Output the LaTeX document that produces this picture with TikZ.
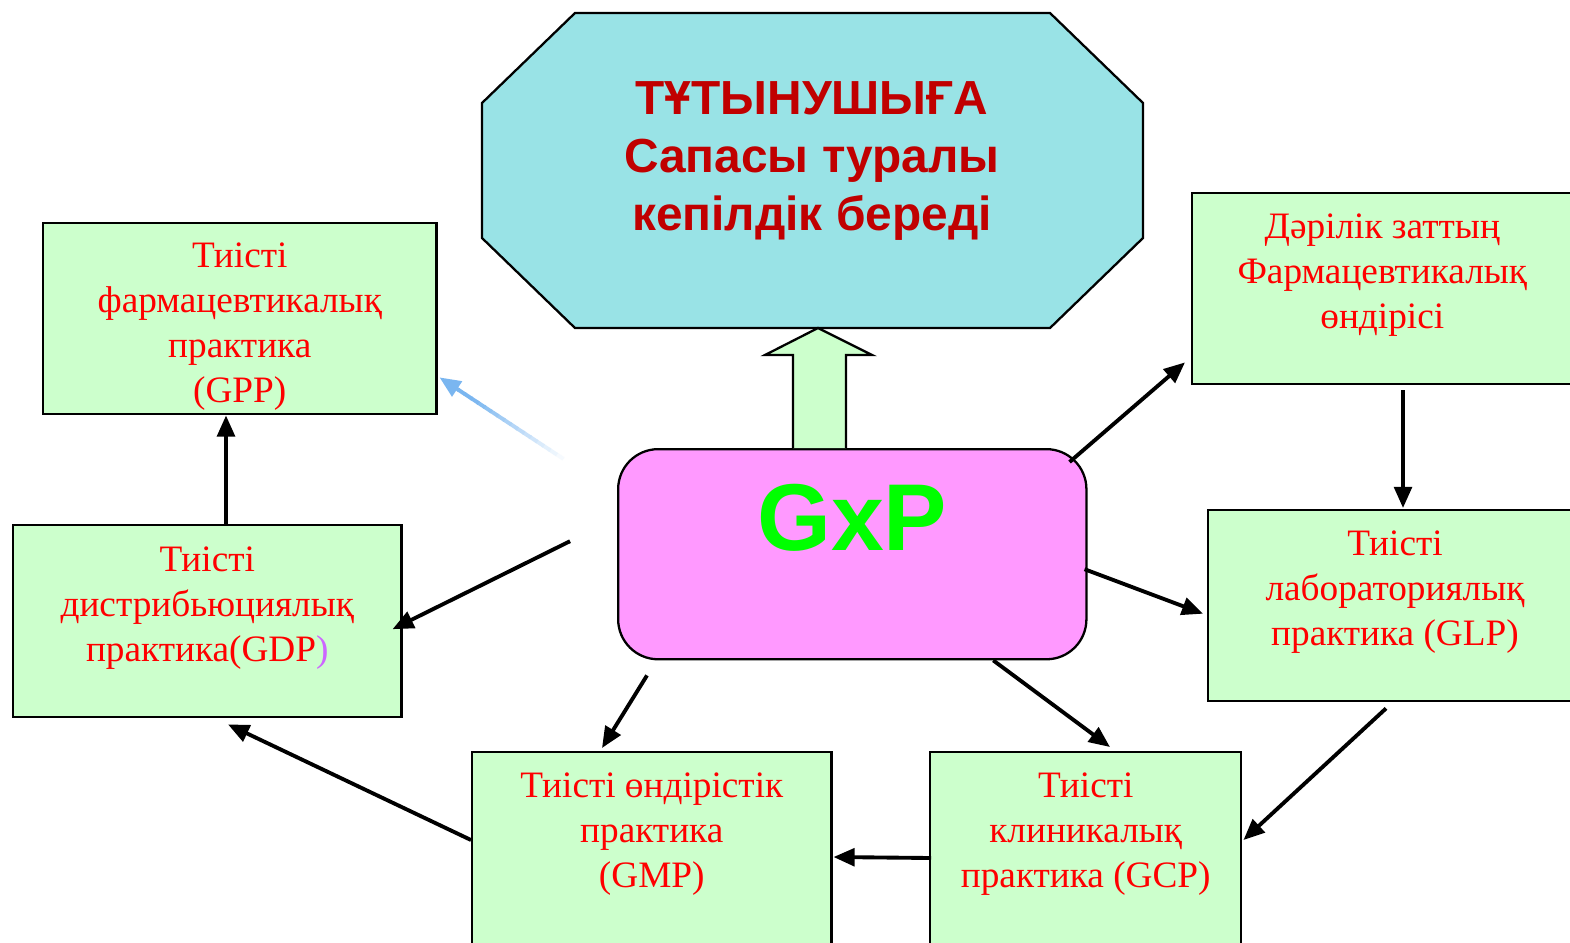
\documentclass[tikz,border=0pt]{standalone}
\usepackage{fontspec}
\setmainfont{Liberation Serif}
\newfontfamily\headfont{Liberation Sans}
\usetikzlibrary{arrows.meta, positioning, calc}
\definecolor{boxGreen}{RGB}{204,255,204}
\definecolor{topCyan}{RGB}{153,227,230}
\definecolor{gxpPink}{RGB}{255,153,255}
\definecolor{gxpGreen}{RGB}{0,255,0}
\definecolor{headRed}{RGB}{192,0,0}
\definecolor{fadeBlue}{RGB}{122,182,240}
\definecolor{parenViolet}{RGB}{204,102,255}

\begin{document}
\begin{tikzpicture}[
    x=0.01cm, y=-0.01cm,
    box/.style={rectangle, draw, line width=0.65pt, fill=boxGreen, anchor=north west, inner sep=0pt},
    boxtext/.style={anchor=north, align=center, inner sep=0pt, text=red, font=\fontsize{10.6}{12.8}\selectfont},
    arrow/.style={-{Triangle[length=6pt, width=5pt]}, line width=1.1pt}
]
    \clip (0,0) rectangle (1570,942);
    \fill[white] (0,0) rectangle (1570,942);

    % Top octagon
    \draw[line width=0.65pt, fill=topCyan] (575,13) -- (1050,13) -- (1143,103) -- (1143,238)
        -- (1050,328) -- (575,328) -- (482,238) -- (482,103) -- cycle;
    \node[anchor=north, align=center, inner sep=0pt, text=headRed,
        font=\headfont\bfseries\fontsize{13.6}{16.5}\selectfont] (consumer) at (812,81)
        {ТҰТЫНУШЫҒА\\Сапасы туралы\\кепілдік береді};

    % Centre
    \node[rectangle, rounded corners=0.4cm, draw, line width=0.65pt, fill=gxpPink, inner sep=0pt,
        minimum width=4.68cm, minimum height=2.1cm, anchor=north west] (gxp) at (617,448) {};
    \node[inner sep=0pt, text=gxpGreen, font=\headfont\bfseries\fontsize{27}{30}\selectfont]
        (gxptext) at ($(gxp.center)+(0,-36)$) {GxP};

    % Block arrow up
    \draw[line width=0.65pt, fill=boxGreen] (793,448) -- (793,355) -- (765,355) -- (818,328)
        -- (872,355) -- (846,355) -- (846,448);

    % Boxes
    \node[box, minimum width=3.93cm, minimum height=1.91cm] (gppbox) at (42,222) {};
    \node[boxtext] (gpp) at ($(gppbox.north)+(0,20)$) {Тиісті\\фармацевтикалық\\практика\\(GPP)};

    \node[box, minimum width=3.88cm, minimum height=1.92cm] (gdpbox) at (12,524) {};
    \node[boxtext] (gdp) at ($(gdpbox.north)+(0,22)$)
        {Тиісті\\дистрибьюциялық\\практика(GDP\textcolor{parenViolet}{)}};

    \node[box, minimum width=3.8cm, minimum height=1.91cm] (prodbox) at (1191,192) {};
    \node[boxtext] (prod) at ($(prodbox.north)+(0,21)$)
        {Дәрілік заттың\\Фармацевтикалық\\өндірісі};

    \node[box, minimum width=3.76cm, minimum height=1.91cm] (glpbox) at (1207,509) {};
    \node[boxtext] (glp) at ($(glpbox.north west)+(188,21)$)
        {Тиісті\\лабораториялық\\практика (GLP)};

    \node[box, minimum width=3.59cm, minimum height=2.5cm] (gmpbox) at (471,751) {};
    \node[boxtext] (gmp) at ($(gmpbox.north)+(0,21)$) {Тиісті өндірістік\\практика\\(GMP)};

    \node[box, minimum width=3.11cm, minimum height=2.5cm] (gcpbox) at (929,751) {};
    \node[boxtext] (gcp) at ($(gcpbox.north)+(0,21)$) {Тиісті\\клиникалық\\практика (GCP)};

    % Fading arrow to GPP
    \coordinate (fadeA) at ($(gxp.west)+(-47,-91)$);
    \coordinate (fadeB) at ($(gppbox.south east)+(2,-38)$);
    \foreach \i in {0,...,18} {
        \pgfmathtruncatemacro{\p}{min(100,7*\i)}
        \draw[line width=1.1pt, color=fadeBlue!\p!white]
            ($(fadeA)!\i/20!(fadeB)$) -- ($(fadeA)!\i/20+0.06!(fadeB)$);
    }
    \draw[arrow, color=fadeBlue] ($(fadeA)!0.9!(fadeB)$) -- (fadeB);

    % Arrows
    \draw[arrow] ($(gdpbox.north west)+(214,0)$) -- ($(gppbox.south west)+(184,0)$);
    \draw[arrow] ($(gxp.west)+(-47,-13)$) -- ($(gdpbox.east)+(-10,8)$);
    \draw[arrow] ($(gxp.north east)+(-18,14)$) -- ($(prodbox.south west)+(-6,-23)$);
    \draw[arrow] ($(prodbox.south west)+(212,5)$) -- ($(glpbox.north west)+(196,-1)$);
    \draw[arrow] ($(gxp.east)+(-3,15)$) -- ($(glpbox.west)+(-4,8)$);
    \draw[arrow] ($(gxp.south)+(141,0)$) -- ($(gcpbox.north west)+(181,-4)$);
    \draw[arrow] ($(glpbox.south west)+(179,6)$) -- ($(gcpbox.north east)+(1,89)$);
    \draw[arrow] ($(gxp.south west)+(30,15)$) -- ($(gmpbox.north west)+(131,-3)$);
    \draw[arrow] ($(gcpbox.north west)+(2,107)$) -- ($(gmpbox.north east)+(1,106)$);
    \draw[arrow] ($(gmpbox.north west)+(0,89)$) -- ($(gdpbox.south west)+(216,6)$);
\end{tikzpicture}
\end{document}
